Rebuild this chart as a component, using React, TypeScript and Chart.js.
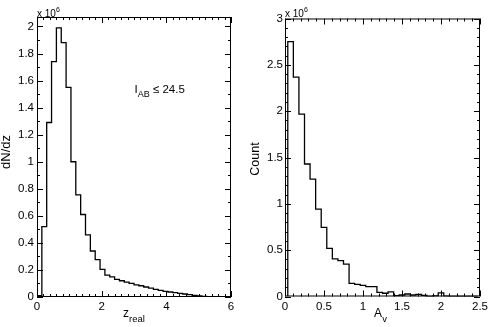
import React, { useEffect, useRef } from "react";
import { Chart, registerables } from "chart.js";

Chart.register(...registerables);

const FONT = '"Liberation Sans", Arial, Helvetica, sans-serif';

// ---- Left panel: redshift distribution (counts in units of 10^6) ----
const Z_BIN_START = 0;
const Z_BIN_WIDTH = 0.15;
const zCountsMillions = [
  0.01, 0.52, 1.29, 1.74, 1.99, 1.88, 1.55, 1.0, 0.755, 0.61,
  0.46, 0.34, 0.277, 0.204, 0.162, 0.149, 0.13, 0.12, 0.11, 0.1,
  0.09, 0.083, 0.074, 0.066, 0.056, 0.049, 0.042, 0.037, 0.032, 0.027,
  0.022, 0.017, 0.012, 0.008, 0.005, 0.003, 0.002, 0.001, 0.0005, 0.0002,
];
const zAxisRange = [0, 6];
const zCountRange = [0, 2.07];

// ---- Right panel: A_V distribution (counts in units of 10^6) ----
const AV_BIN_START = 1 / 28;
const AV_BIN_WIDTH = 1 / 14;
const avCountsMillions = [
  2.75, 2.367, 1.968, 1.43, 1.266, 0.942, 0.747, 0.52, 0.405, 0.387,
  0.35, 0.142, 0.13, 0.12, 0.106, 0.106, 0.045, 0.035, 0.049, 0.01,
  0.016, 0.027, 0.016, 0.024, 0.012, 0.002, 0.006, 0.04, 0.003, 0.002,
  0.002, 0.001, 0.001, 0.0005,
];
const avAxisRange = [0, 2.5];
const avCountRange = [0, 3];

function histPoints(start: number, width: number, counts: number[]) {
  const pts: { x: number; y: number }[] = [{ x: start, y: 0 }];
  counts.forEach((c, i) => pts.push({ x: start + i * width, y: c }));
  pts.push({ x: start + counts.length * width, y: 0 });
  return pts;
}

const fmt = (v: number | string) => String(+Number(v).toFixed(2));

function sub(ctx: CanvasRenderingContext2D, x: number, y: number, main: string, small: string, mainSize: number, smallSize: number, dy: number, align: "center" | "left") {
  ctx.font = `${mainSize}px ${FONT}`;
  const w1 = ctx.measureText(main).width;
  ctx.font = `${smallSize}px ${FONT}`;
  const w2 = ctx.measureText(small).width;
  const x0 = align === "center" ? x - (w1 + w2) / 2 : x;
  ctx.textAlign = "left";
  ctx.textBaseline = "alphabetic";
  ctx.font = `${mainSize}px ${FONT}`;
  ctx.fillText(main, x0, y);
  ctx.font = `${smallSize}px ${FONT}`;
  ctx.fillText(small, x0 + w1, y + dy);
  return x0 + w1 + w2;
}

type Panel = {
  left: number;
  width: number;
  points: { x: number; y: number }[];
  xRange: number[];
  yRange: number[];
  xMajor: number;
  xMinor: number;
  yMajor: number;
  yMinor: number;
  yAxisWidth: number;
  padRight: number;
  padTop: number;
  xAxisHeight: number;
  yLabelPad: number;
  decorate: (ctx: CanvasRenderingContext2D, a: { left: number; right: number; top: number; bottom: number }) => void;
};

const frameTicks = {
  id: "frameTicks",
  afterDatasetsDraw(chart: any, _args: any, opts: any) {
    const p: Panel = opts.panel;
    const { ctx, chartArea: a, scales } = chart;
    const xs = scales.x;
    const ys = scales.y;
    ctx.save();
    ctx.strokeStyle = "#000";
    ctx.lineWidth = 1;
    ctx.strokeRect(a.left + 0.5, a.top + 0.5, a.right - a.left - 1, a.bottom - a.top - 1);
    ctx.beginPath();
    const nx = Math.round((p.xRange[1] - p.xRange[0]) / p.xMinor);
    for (let i = 0; i <= nx; i++) {
      const v = p.xRange[0] + i * p.xMinor;
      const r = v / p.xMajor;
      const len = Math.abs(r - Math.round(r)) < 1e-6 ? 6 : 3;
      const px = Math.round(xs.getPixelForValue(v)) + 0.5;
      ctx.moveTo(px, a.bottom);
      ctx.lineTo(px, a.bottom - len);
      ctx.moveTo(px, a.top);
      ctx.lineTo(px, a.top + len);
    }
    const ny = Math.floor((p.yRange[1] - p.yRange[0]) / p.yMinor + 1e-6);
    for (let i = 0; i <= ny; i++) {
      const v = p.yRange[0] + i * p.yMinor;
      const r = v / p.yMajor;
      const len = Math.abs(r - Math.round(r)) < 1e-6 ? 6 : 3;
      const py = Math.round(ys.getPixelForValue(v)) + 0.5;
      ctx.moveTo(a.left, py);
      ctx.lineTo(a.left + len, py);
      ctx.moveTo(a.right, py);
      ctx.lineTo(a.right - len, py);
    }
    ctx.stroke();
    ctx.fillStyle = "#000";
    p.decorate(ctx, a);
    ctx.restore();
  },
};

const panels: Panel[] = [
  {
    left: 0,
    width: 245,
    points: histPoints(Z_BIN_START, Z_BIN_WIDTH, zCountsMillions),
    xRange: zAxisRange,
    yRange: zCountRange,
    xMajor: 2,
    xMinor: 0.2,
    yMajor: 0.2,
    yMinor: 0.1,
    yAxisWidth: 37,
    padRight: 14,
    padTop: 17,
    xAxisHeight: 30,
    yLabelPad: 3,
    decorate: (ctx, a) => {
      // x axis title
      sub(ctx, (a.left + a.right) / 2, 316.5, "z", "real", 12, 9.5, 5, "center");
      // y axis title
      ctx.save();
      ctx.translate(10, 152);
      ctx.rotate(-Math.PI / 2);
      ctx.font = `13px ${FONT}`;
      ctx.textAlign = "center";
      ctx.textBaseline = "alphabetic";
      ctx.fillText("dN/dz", 0, 0);
      ctx.restore();
      // exponent
      sub(ctx, a.left, 16.5, "x 10", "6", 10, 7, -5, "left");
      // annotation
      const xe = sub(ctx, 134.5, 93.3, "I", "AB", 11.5, 9, 4, "left");
      ctx.font = `11.5px ${FONT}`;
      ctx.textAlign = "left";
      ctx.fillText(" \u2264 24.5", xe, 93.3);
    },
  },
  {
    left: 245,
    width: 246,
    points: histPoints(AV_BIN_START, AV_BIN_WIDTH, avCountsMillions),
    xRange: avAxisRange,
    yRange: avCountRange,
    xMajor: 0.5,
    xMinor: 0.1,
    yMajor: 0.5,
    yMinor: 0.1,
    yAxisWidth: 40,
    padRight: 11,
    padTop: 18.5,
    xAxisHeight: 30.5,
    yLabelPad: 2,
    decorate: (ctx, a) => {
      sub(ctx, (a.left + a.right) / 2 - 2, 316.5, "A", "v", 12, 9.5, 5, "center");
      ctx.save();
      ctx.translate(14, 159);
      ctx.rotate(-Math.PI / 2);
      ctx.font = `12.5px ${FONT}`;
      ctx.textAlign = "center";
      ctx.textBaseline = "alphabetic";
      ctx.fillText("Count", 0, 0);
      ctx.restore();
      sub(ctx, a.left, 16.5, "x 10", "6", 10, 7, -5, "left");
    },
  },
];

function HistPanel({ panel }: { panel: Panel }) {
  const ref = useRef<HTMLCanvasElement | null>(null);
  useEffect(() => {
    if (!ref.current) return;
    const tickFont = { family: FONT, size: 11.5 };
    const chart = new Chart(ref.current, {
      type: "line",
      data: {
        datasets: [
          {
            data: panel.points,
            stepped: "before",
            borderColor: "#000",
            borderWidth: 1.3,
            pointRadius: 0,
            fill: false,
          },
        ],
      },
      options: {
        responsive: false,
        animation: false,
        devicePixelRatio: 1,
        layout: { padding: { left: 0, right: panel.padRight, top: panel.padTop, bottom: 0 } },
        plugins: {
          legend: { display: false },
          tooltip: { enabled: false },
          frameTicks: { panel },
        } as any,
        scales: {
          x: {
            type: "linear",
            min: panel.xRange[0],
            max: panel.xRange[1],
            afterFit: (s: any) => {
              s.height = panel.xAxisHeight;
            },
            grid: { display: false, drawTicks: false },
            border: { display: false },
            ticks: {
              stepSize: panel.xMajor,
              autoSkip: false,
              maxRotation: 0,
              padding: 3,
              color: "#000",
              font: tickFont,
              includeBounds: false,
              callback: (v: any) => fmt(v),
            },
          },
          y: {
            type: "linear",
            min: panel.yRange[0],
            max: panel.yRange[1],
            afterFit: (s: any) => {
              s.width = panel.yAxisWidth;
            },
            grid: { display: false, drawTicks: false },
            border: { display: false },
            ticks: {
              stepSize: panel.yMajor,
              autoSkip: false,
              padding: panel.yLabelPad,
              color: "#000",
              font: tickFont,
              includeBounds: false,
              callback: (v: any) => fmt(v),
            },
          },
        },
      } as any,
      plugins: [frameTicks as any],
    });
    return () => chart.destroy();
  }, [panel]);
  return (
    <div style={{ position: "absolute", left: panel.left, top: 0, width: panel.width, height: 327 }}>
      <canvas ref={ref} width={panel.width} height={327} style={{ width: panel.width, height: 327, display: "block" }} />
    </div>
  );
}

export default function App() {
  return (
    <div style={{ position: "absolute", left: 0, top: 0, width: 491, height: 327, background: "#fff", overflow: "hidden" }}>
      {panels.map((p, i) => (
        <HistPanel key={i} panel={p} />
      ))}
    </div>
  );
}
